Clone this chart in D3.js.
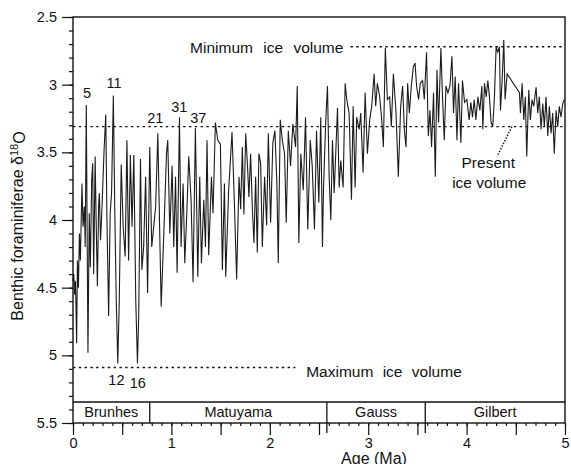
<!DOCTYPE html>
<html>
<head>
<meta charset="utf-8">
<script src="https://cdn.jsdelivr.net/npm/d3@7"></script>
<style>
  body { margin: 0; background: #fff; }
  svg { display: block; font-family: "Liberation Sans", Arial, Helvetica, sans-serif; }
</style>
</head>
<body>
<div id="container"></div>
<script>
// benthic d18O record, [age Ma, d18O permil]
var record = [
  [0.000,4.45],[0.008,4.40],[0.016,4.55],[0.024,4.45],[0.030,4.62],[0.037,4.91],[0.045,4.30],[0.055,4.50],
  [0.065,4.10],[0.075,4.30],[0.091,3.73],[0.102,4.05],[0.115,3.90],[0.124,4.20],[0.135,3.15],[0.152,4.98],
  [0.165,3.95],[0.176,4.35],[0.190,3.70],[0.200,3.58],[0.210,4.40],[0.225,3.53],[0.235,4.00],[0.248,4.49],
  [0.260,3.90],[0.268,3.80],[0.280,4.15],[0.295,3.90],[0.315,3.50],[0.333,3.22],[0.345,4.00],[0.362,4.71],
  [0.378,3.95],[0.392,3.80],[0.410,3.08],[0.425,3.95],[0.440,4.60],[0.455,5.06],[0.470,4.61],[0.490,3.59],
  [0.510,4.05],[0.530,4.27],[0.548,3.41],[0.565,4.30],[0.583,3.52],[0.600,4.05],[0.618,3.52],[0.638,4.60],
  [0.655,5.06],[0.668,4.70],[0.686,3.55],[0.700,4.37],[0.718,4.20],[0.738,3.68],[0.758,4.54],[0.780,3.46],
  [0.800,4.20],[0.820,4.05],[0.840,3.90],
  [0.862,3.36],[0.896,4.64],[0.923,4.10],[0.950,3.51],[0.963,3.41],[0.984,4.10],[1.007,3.60],[1.024,4.20],
  [1.042,3.68],[1.058,4.39],[1.082,3.24],[1.098,4.20],[1.119,3.73],[1.136,4.32],[1.159,3.90],[1.176,3.53],
  [1.200,3.85],[1.220,4.46],[1.244,3.32],[1.268,4.42],[1.288,3.68],[1.305,4.32],[1.329,3.85],[1.346,4.20],
  [1.362,3.41],[1.379,4.26],[1.407,3.68],[1.423,3.95],[1.447,3.28],[1.471,3.41],[1.498,3.44],[1.518,4.37],
  [1.539,3.73],[1.552,4.42],[1.582,3.78],[1.616,3.35],[1.640,3.87],[1.663,4.44],
  [1.687,3.68],[1.704,3.92],[1.721,3.46],[1.737,3.96],[1.755,3.36],[1.772,3.58],[1.788,3.83],[1.805,3.51],
  [1.823,3.92],[1.839,4.17],[1.856,3.68],[1.873,4.24],[1.889,3.51],[1.907,3.58],[1.924,4.20],[1.947,3.68],
  [1.968,4.04],[1.985,3.36],[2.008,4.02],[2.031,3.43],[2.052,3.34],[2.072,3.73],[2.086,4.32],[2.106,3.26],
  [2.127,3.41],[2.150,3.51],[2.167,4.02],[2.188,3.34],[2.211,3.60],[2.234,3.29],[2.262,3.46],[2.279,3.01],
  [2.295,4.17],[2.315,3.51],[2.340,3.78],[2.363,3.24],[2.386,4.07],[2.411,3.41],[2.431,3.60],[2.454,4.07],
  [2.475,3.34],[2.498,3.87],
  [2.518,3.24],[2.535,4.20],[2.546,3.76],[2.569,3.26],[2.586,3.01],[2.603,3.68],[2.620,4.00],[2.637,3.41],
  [2.654,3.80],[2.670,3.51],[2.688,3.17],[2.705,3.76],[2.721,3.56],[2.745,3.76],[2.766,2.99],[2.782,3.11],
  [2.806,3.21],[2.830,3.85],[2.847,3.16],[2.867,3.76],[2.883,3.24],[2.908,3.33],[2.924,3.21],[2.948,3.65],
  [2.969,3.06],[2.992,3.51],[3.015,3.26],[3.036,3.16],[3.060,2.92],[3.076,3.16],[3.093,2.99],[3.117,3.09],
  [3.137,3.26],[3.154,3.46],[3.174,2.73],[3.195,3.11],[3.218,3.09],[3.235,3.31],[3.256,2.92],[3.283,3.21],
  [3.306,3.68],[3.330,3.16],
  [3.350,3.01],[3.367,3.33],[3.384,3.46],[3.401,2.99],[3.418,3.21],[3.438,3.01],[3.458,2.87],[3.476,2.84],
  [3.492,3.01],[3.512,3.11],[3.529,2.99],[3.553,2.97],[3.570,3.11],[3.593,2.76],[3.611,3.38],[3.628,3.19],
  [3.644,3.46],[3.664,3.06],[3.682,3.68],[3.699,2.89],[3.715,3.28],[3.739,2.73],[3.756,3.11],[3.773,3.41],
  [3.790,3.01],[3.810,3.06],[3.831,3.01],[3.851,2.79],[3.867,3.21],[3.884,2.94],[3.902,3.41],[3.918,2.99],
  [3.942,3.43],[3.958,2.97],[3.979,3.13],[4.003,3.11],[4.026,3.26],[4.043,3.13],[4.060,3.24],[4.077,3.11],
  [4.094,3.26],[4.115,3.09],[4.135,3.19],[4.155,3.01],
  [4.165,3.33],[4.182,2.99],[4.199,3.09],[4.216,2.97],[4.232,3.09],[4.249,3.28],[4.266,3.31],[4.283,3.09],
  [4.300,2.72],[4.317,2.76],[4.334,2.72],[4.344,3.19],[4.361,2.97],[4.378,2.67],[4.391,3.11],[4.412,2.92],
  [4.537,3.06],[4.547,3.21],[4.564,2.99],[4.581,3.26],[4.597,3.09],[4.611,3.53],[4.632,3.04],[4.648,3.26],
  [4.665,3.11],[4.682,3.16],[4.706,3.02],[4.723,3.21],[4.739,3.09],[4.757,3.33],[4.774,3.14],[4.790,3.31],
  [4.807,3.09],[4.825,3.38],[4.841,3.16],[4.858,3.36],[4.875,3.21],[4.891,3.51],[4.909,3.19],[4.926,3.31],
  [4.942,3.16],[4.959,3.24],[4.977,3.14],[4.993,3.11]
];

// marine isotope stage numbers and where they are written (age, d18O)
var stageNames = ["5", "11", "21", "31", "37", "12", "16"];
var stageAges = [0.142, 0.416, 0.837, 1.080, 1.273, 0.441, 0.659];
var stageLevels = [3.10, 3.025, 3.283, 3.202, 3.283, 5.22, 5.24];

// ice volume reference levels
var minIce = 2.72, presentIce = 3.31, maxIce = 5.09;

// magnetic polarity chrons
var chronNames = ["Brunhes", "Matuyama", "Gauss", "Gilbert"];
var chronBounds = [0, 0.78, 2.58, 3.58, 5];

var width = 571, height = 464,
  font = "'Liberation Sans', Arial, Helvetica, sans-serif",
  ink = "#111";

var xScale = d3.scaleLinear().domain([0, 5]).range([73, 565]);
var yScale = d3.scaleLinear().domain([2.5, 5.5]).range([17, 423]);
var barH = 21;

var svg = d3.select("#container").append("svg")
  .attr("width", width).attr("height", height)
  .attr("viewBox", [0, 0, width, height]);

//------------ reference lines ------------
function dashed(x0, x1, v) {
  svg.append("line")
    .attr("x1", xScale(x0)).attr("x2", xScale(x1))
    .attr("y1", yScale(v)).attr("y2", yScale(v))
    .attr("stroke", ink).attr("stroke-width", 1.4)
    .attr("stroke-dasharray", "2.4,3.4");
}
dashed(2.82, 5, minIce);
dashed(0, 5, presentIce);
dashed(0, 2.26, maxIce);

//------------ data line ------------
var line = d3.line()
  .x(function (d) { return xScale(d[0]); })
  .y(function (d) { return yScale(d[1]); });

svg.append("path")
  .datum(record)
  .attr("d", line)
  .attr("fill", "none")
  .attr("stroke", "#1c1c1c")
  .attr("stroke-width", 1.1)
  .attr("stroke-linejoin", "miter");

//------------ chron bar ------------
var y0 = yScale(5.5);
svg.append("line")
  .attr("x1", xScale(0)).attr("x2", xScale(5))
  .attr("y1", y0 - barH).attr("y2", y0 - barH)
  .attr("stroke", ink).attr("stroke-width", 1.3);
chronBounds.slice(1, -1).forEach(function (b, i) {
  svg.append("line")
    .attr("x1", xScale(b)).attr("x2", xScale(b))
    .attr("y1", y0 - barH).attr("y2", i === 0 ? y0 : y0 + 10)
    .attr("stroke", ink).attr("stroke-width", 1.3);
});
chronNames.forEach(function (n, i) {
  svg.append("text")
    .attr("x", (xScale(chronBounds[i]) + xScale(chronBounds[i + 1])) / 2)
    .attr("y", y0 - 6)
    .attr("text-anchor", "middle")
    .style("font-size", "14.5px").style("fill", ink)
    .text(n);
});

//------------ frame ------------
svg.append("rect")
  .attr("x", xScale(0)).attr("y", yScale(2.5))
  .attr("width", xScale(5) - xScale(0))
  .attr("height", yScale(5.5) - yScale(2.5))
  .attr("fill", "none").attr("stroke", ink).attr("stroke-width", 1.4);

//------------ axes ------------
var gY = svg.append("g").attr("transform", "translate(" + xScale(0) + ",0)");
gY.call(d3.axisLeft(yScale)
  .tickValues(d3.range(25, 56, 5).map(function (i) { return i / 10; }))
  .tickSize(11).tickPadding(5).tickSizeOuter(0)
  .tickFormat(function (d) { return String(d); }));
var gYm = svg.append("g").attr("transform", "translate(" + xScale(0) + ",0)");
gYm.call(d3.axisLeft(yScale)
  .tickValues(d3.range(25, 56).map(function (i) { return i / 10; }))
  .tickSize(4).tickSizeOuter(0).tickFormat(""));

var gX = svg.append("g").attr("transform", "translate(0," + yScale(5.5) + ")");
gX.call(d3.axisBottom(xScale)
  .tickValues(d3.range(0, 11).map(function (i) { return i / 2; }))
  .tickSize(12).tickPadding(3).tickSizeOuter(0)
  .tickFormat(function (d) { return d % 1 === 0 ? String(d) : ""; }));
var gXm = svg.append("g").attr("transform", "translate(0," + yScale(5.5) + ")");
gXm.call(d3.axisBottom(xScale)
  .tickValues(d3.range(0, 51).map(function (i) { return i / 10; }))
  .tickSize(3).tickSizeOuter(0).tickFormat(""));

svg.selectAll(".domain").remove();
svg.selectAll(".tick line").attr("stroke", ink).attr("stroke-width", 1.2);
svg.selectAll(".tick text").style("font-size", "14.5px").style("fill", ink)
  .style("font-family", font);

//------------ annotations ------------
stageNames.forEach(function (n, i) {
  svg.append("text")
    .attr("x", xScale(stageAges[i])).attr("y", yScale(stageLevels[i]))
    .attr("text-anchor", "middle")
    .style("font-size", "14.5px").style("fill", ink)
    .text(n);
});

svg.append("text")
  .attr("x", xScale(1.19)).attr("y", yScale(2.766))
  .style("font-size", "15.5px").style("word-spacing", "6px").style("fill", ink)
  .text("Minimum ice volume");
svg.append("text")
  .attr("x", xScale(2.37)).attr("y", yScale(5.16))
  .style("font-size", "15.5px").style("word-spacing", "5px").style("fill", ink)
  .text("Maximum ice volume");

var present = svg.append("text")
  .attr("text-anchor", "middle")
  .style("font-size", "15.5px").style("fill", ink);
present.append("tspan").attr("x", xScale(4.22)).attr("y", yScale(3.613)).text("Present");
present.append("tspan").attr("x", xScale(4.23)).attr("y", yScale(3.76)).text("ice volume");

svg.append("line")
  .attr("x1", xScale(4.46)).attr("y1", yScale(presentIce))
  .attr("x2", xScale(4.31)).attr("y2", yScale(3.53))
  .attr("stroke", ink).attr("stroke-width", 1.5)
  .attr("stroke-dasharray", "1.4,1.6");

// axis titles
var yl = svg.append("text")
  .attr("transform", "translate(23," + 226 + ") rotate(-90)")
  .attr("text-anchor", "middle")
  .style("font-size", "16px").style("fill", ink);
yl.append("tspan").text("Benthic foraminiferae \u03B4");
yl.append("tspan").attr("dy", "-0.45em").style("font-size", "11px").text("18");
yl.append("tspan").attr("dy", "0.45em").text("O");

svg.append("text")
  .attr("x", 374).attr("y", 464)
  .attr("text-anchor", "middle")
  .style("font-size", "16px").style("fill", ink)
  .text("Age (Ma)");
</script>
</body>
</html>
